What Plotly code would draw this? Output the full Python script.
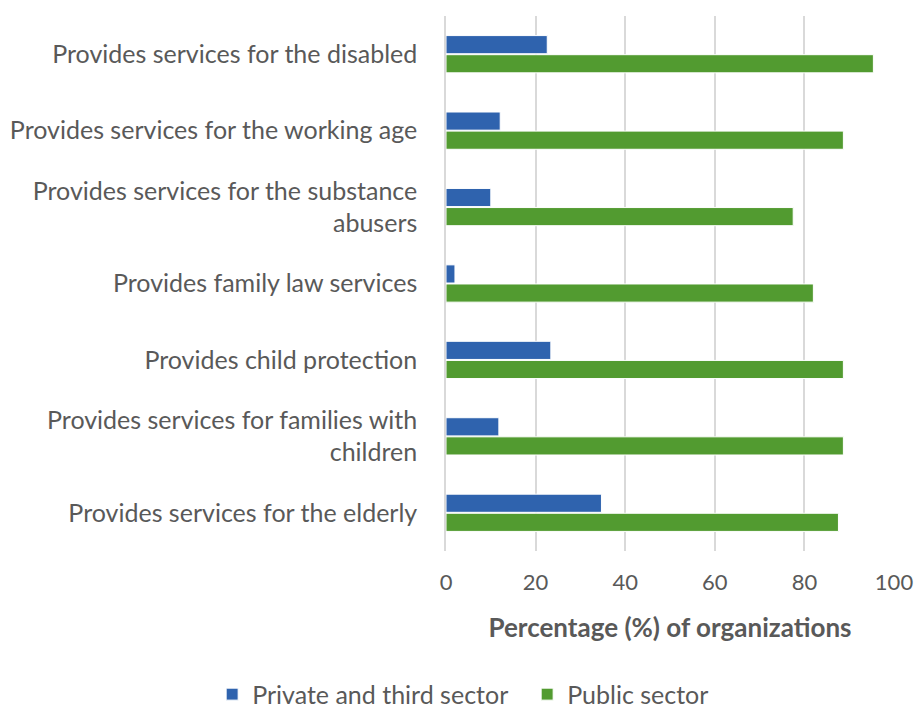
import plotly.graph_objects as go

categories = [
    "Provides services for the disabled",
    "Provides services for the working age",
    "Provides services for the substance<br>abusers",
    "Provides family law services",
    "Provides child protection",
    "Provides services for families with<br>children",
    "Provides services for the elderly",
]
private_third = [22.6, 12.1, 10.0, 2.0, 23.4, 11.8, 34.7]
public_sector = [95.4, 88.7, 77.5, 82.0, 88.7, 88.7, 87.6]
x_ticks = [0, 20, 40, 60, 80, 100]

FONT = "Lato"
GREY = "#595959"

fig = go.Figure()
fig.add_trace(go.Bar(
    y=categories, x=private_third, orientation="h", name="Private and third sector",
    marker=dict(color="#2F63AE", line=dict(color="white", width=1)),
))
fig.add_trace(go.Bar(
    y=categories, x=public_sector, orientation="h", name="Public sector",
    marker=dict(color="#529B30", line=dict(color="white", width=1)),
))

fig.update_layout(
    width=914, height=710,
    margin=dict(l=446, r=20, t=16, b=159, autoexpand=False),
    plot_bgcolor="white", paper_bgcolor="white",
    barmode="group", bargap=0.5, bargroupgap=0.05,
    font=dict(family=FONT, size=25, color=GREY),
    showlegend=True,
    legend=dict(orientation="h", x=-0.522, xanchor="left",
                y=-0.268, yanchor="middle", entrywidth=270, entrywidthmode="pixels",
                font=dict(size=25, color=GREY), traceorder="normal"),
    xaxis=dict(
        range=[0, 100], tickvals=x_ticks, showgrid=True, gridcolor="#d9d9d9", gridwidth=1.5,
        zeroline=False, showline=False, ticks="outside", ticklen=12, tickcolor="white",
        tickfont=dict(size=22, color=GREY), automargin=False, ticklabeloverflow="allow",
        title=dict(text="<b>Percentage (%) of organizations</b>", font=dict(size=26, color=GREY), standoff=24),
    ),
    yaxis=dict(
        autorange="reversed", showgrid=False, showline=True, linecolor="#d9d9d9", linewidth=1.5,
        ticks="outside", ticklen=22, tickcolor="white", automargin=False,
        tickfont=dict(size=25, color=GREY),
    ),
)

fig.write_html("out.html")
